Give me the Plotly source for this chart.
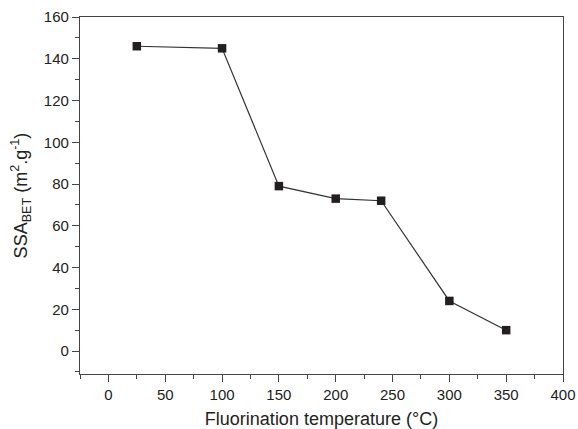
import plotly.graph_objects as go

temperature = [25, 100, 150, 200, 240, 300, 350]
ssa_bet = [146, 145, 79, 73, 72, 24, 10]

x_ticks = [0, 50, 100, 150, 200, 250, 300, 350, 400]
y_ticks = [0, 20, 40, 60, 80, 100, 120, 140, 160]

FONT = "Liberation Sans, Arial, sans-serif"

fig = go.Figure()
fig.add_trace(go.Scatter(
    x=temperature, y=ssa_bet, mode="lines+markers",
    line=dict(color="#333333", width=1.2),
    marker=dict(symbol="square", size=8.5, color="#231f20"),
    showlegend=False,
))

axis_common = dict(
    showline=True, linecolor="#444444", linewidth=1.3, mirror=True,
    ticks="outside", ticklen=7, tickwidth=1.2, tickcolor="#444444",
    showgrid=False, zeroline=False, automargin=False,
    tickfont=dict(family=FONT, size=15, color="#222222"),
    minor=dict(ticks="outside", ticklen=4, tickwidth=1.2, tickcolor="#444444", showgrid=False),
)

fig.update_xaxes(
    range=[-25, 400], tickvals=x_ticks, ticktext=[str(v) for v in x_ticks],
    minor_dtick=25, minor_tick0=0,
    title=dict(text="Fluorination temperature (°C)", standoff=12,
               font=dict(family=FONT, size=18, color="#222222")),
    **axis_common,
)
fig.update_yaxes(
    range=[-11, 160], tickvals=y_ticks, ticktext=[str(v) for v in y_ticks],
    minor_dtick=10, minor_tick0=0,
    title=dict(text="SSA<sub>BET</sub> (m<sup>2</sup>.g<sup>-1</sup>)", standoff=11,
               font=dict(family=FONT, size=18, color="#222222")),
    **axis_common,
)

fig.update_layout(
    width=578, height=429,
    margin=dict(l=80, r=15, t=17, b=55),
    plot_bgcolor="white", paper_bgcolor="white",
)

fig.write_html(
    "out.html",
    config={"displayModeBar": False},
    post_script="document.body.style.margin='0';document.body.style.overflow='hidden';",
)
